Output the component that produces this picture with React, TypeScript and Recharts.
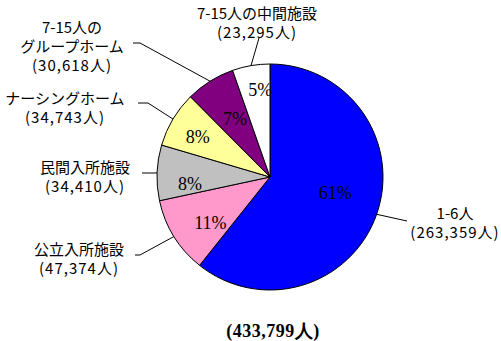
import { PieChart, Pie, Cell } from "recharts";

const categories = ["1-6人", "公立入所施設", "民間入所施設", "ナーシングホーム", "7-15人のグループホーム", "7-15人の中間施設"];
const people = [263359, 47374, 34410, 34743, 30618, 23295];
const percentLabels = ["61%", "11%", "8%", "8%", "7%", "5%"];
const nameLines = [["1-6人"], ["公立入所施設"], ["民間入所施設"], ["ナーシングホーム"], ["7-15人の", "グループホーム"], ["7-15人の中間施設"]];
const countLabels = ["(263,359人)", "(47,374人)", "(34,410人)", "(34,743人)", "(30,618人)", "(23,295人)"];
const totalLabel = "(433,799人)";

const colors = ["#0000FF", "#FF99CC", "#C0C0C0", "#FFFF99", "#800080", "#FFFFFF"];

// label layout: text centre x, first line y, leader line points (text side)
const labelLayout = [
  { x: 455, y: 212, line: [[407, 221]] },
  { x: 79, y: 248, line: [[140, 255], [135, 255]] },
  { x: 85, y: 166, line: [[155, 173], [142, 173]] },
  { x: 65, y: 97, line: [[148, 103], [138, 103]] },
  { x: 72, y: 26, line: [[140, 43], [133, 43]] },
  { x: 257, y: 12, line: [[259, 38]] },
];
const pctLayout = [
  { r: 66, dx: 3, dy: -6 },
  { r: 76, dx: 5, dy: 6 },
  { r: 80, dx: 0, dy: 10 },
  { r: 83, dx: -1, dy: 3 },
  { r: 68, dx: 1, dy: 0 },
  { r: 88, dx: 5, dy: 0 },
];

const data = categories.map((name, i) => ({ name, value: people[i] }));
const RAD = Math.PI / 180;
const jp = "'Noto Sans CJK JP', sans-serif";

const renderLabel = (props: any) => {
  const { cx, cy, midAngle, outerRadius, index } = props;
  const cos = Math.cos(-midAngle * RAD);
  const sin = Math.sin(-midAngle * RAD);
  const ex = cx + outerRadius * cos;
  const ey = cy + outerRadius * sin;
  const lay = labelLayout[index];
  const pl = pctLayout[index];
  const pts = [[ex, ey], ...lay.line].map((p) => p.join(",")).join(" ");
  const names = nameLines[index];
  return (
    <g>
      <polyline points={pts} fill="none" stroke="#000" strokeWidth={1} />
      <text
        x={cx + pl.r * cos + pl.dx}
        y={cy + pl.r * sin + pl.dy}
        textAnchor="middle"
        dominantBaseline="central"
        fontFamily="'Liberation Serif', serif"
        fontSize={18}
        fill="#000"
      >
        {percentLabels[index]}
      </text>
      {names.map((t, k) => (
        <text
          key={k}
          x={lay.x}
          y={lay.y + k * 19}
          textAnchor="middle"
          dominantBaseline="central"
          fontFamily={jp}
          fontSize={15}
          fill="#000"
        >
          {t}
        </text>
      ))}
      <text
        x={lay.x}
        y={lay.y + names.length * 19}
        textAnchor="middle"
        dominantBaseline="central"
        fontFamily={jp}
        fontSize={15}
        letterSpacing={1}
        fill="#000"
      >
        {countLabels[index]}
      </text>
    </g>
  );
};

export default function App() {
  return (
    <div style={{ position: "absolute", left: 0, top: 0, width: 501, height: 341, background: "#fff" }}>
      <PieChart width={501} height={341} margin={{ top: 0, right: 0, bottom: 0, left: 0 }}>
        <Pie
          data={data}
          dataKey="value"
          cx={270}
          cy={177}
          outerRadius={113}
          startAngle={90}
          endAngle={-270}
          stroke="#000"
          strokeWidth={1}
          label={renderLabel}
          labelLine={false}
          isAnimationActive={false}
        >
          {data.map((d, i) => (
            <Cell key={d.name} fill={colors[i]} />
          ))}
        </Pie>
        <text
          x={273}
          y={331}
          textAnchor="middle"
          dominantBaseline="central"
          fontFamily="'Liberation Serif', serif"
          fontWeight="bold"
          fontSize={18}
          letterSpacing={0.5}
          fill="#000"
        >
          {totalLabel}
        </text>
      </PieChart>
    </div>
  );
}
